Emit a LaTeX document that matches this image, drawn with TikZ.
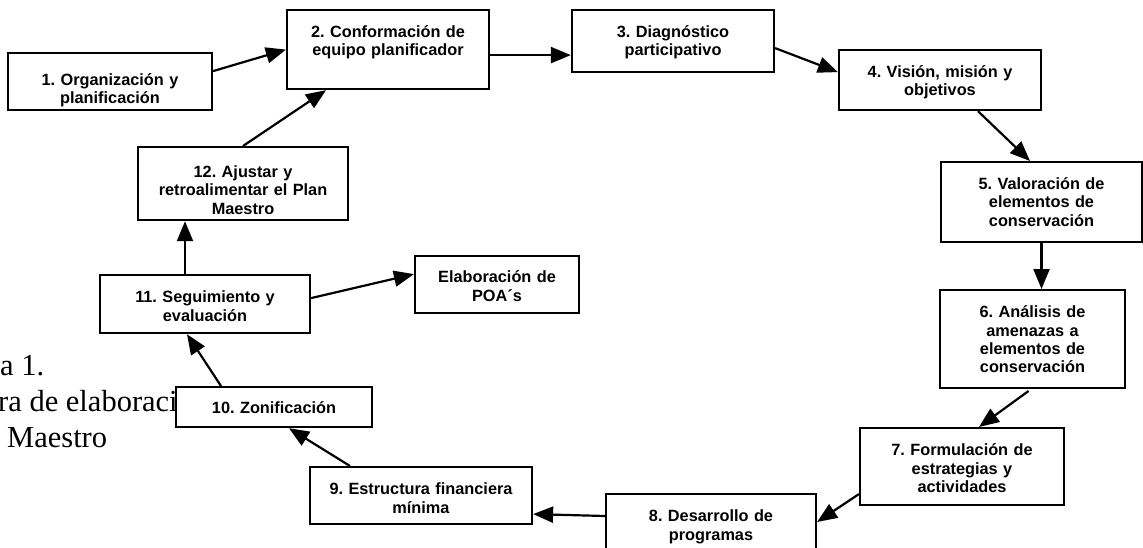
\documentclass[tikz,border=0pt]{standalone}
\usepackage{fontspec}
\setmainfont{Liberation Serif}
\newfontfamily\stagefamily{Liberation Sans}
\usetikzlibrary{arrows.meta}
\tikzstyle{stage}=[draw, line width=2.2pt, fill=white, align=center, anchor=north, inner sep=0pt, text height=27.5pt, font=\stagefamily\bfseries\fontsize{16.3}{18.4}\selectfont\frenchspacing]
\tikzstyle{flow}=[-{Triangle[length=20pt, width=16pt]}, line width=2.2pt]
\tikzstyle{caption}=[anchor=base west, inner sep=0pt, font=\fontsize{30.5}{36}\selectfont]

\begin{document}
\begin{tikzpicture}[x=1pt, y=-1pt]
  \useasboundingbox (0,0) rectangle (1143,548);
  % caption, partly hidden behind stage 10
  \node[caption] (cap1) at (0,375) {a 1.};
  \node[caption] (cap2) at (-2,411) {ra de elaboraci};
  \node[caption] (cap3) at (7,447) {Maestro};
  % stages of the plan
  \node[stage, text width=204pt, text height=32pt, text depth=25pt] (s1) at (110,52) {1. Organización y\\planificación};
  \node[stage, text width=202pt, text depth=51.5pt] (s2) at (388,9) {2. Conformación de\\equipo planificador};
  \node[stage, text width=202pt, text depth=34.5pt] (s3) at (673,9) {3. Diagnóstico\\participativo};
  \node[stage, text width=202pt, text depth=32.5pt] (s4) at (940,49) {4. Visión, misión y\\objetivos};
  \node[stage, text width=201pt, text depth=52.5pt] (s5) at (1041.5,161) {5. Valoración de\\elementos de\\conservación};
  \node[stage, text width=185pt, text depth=70.5pt] (s6) at (1032.5,289) {6. Análisis de\\amenazas a\\elementos de\\conservación};
  \node[stage, text width=204pt, text depth=49.5pt] (s7) at (962,427) {7. Formulación de\\estrategias y\\actividades};
  \node[stage, text width=210pt, text depth=42.5pt] (s8) at (711,493) {8. Desarrollo de\\programas};
  \node[stage, text width=222pt, text depth=29.5pt] (s9) at (421,466) {9. Estructura financiera\\mínima};
  \node[stage, text width=196pt, text height=26.5pt, text depth=13.5pt] (s10) at (274,386) {10. Zonificación};
  \node[stage, text width=210pt, text depth=30.5pt] (s11) at (205,274) {11. Seguimiento y\\evaluación};
  \node[stage, text width=210pt, text height=30.5pt, text depth=42.5pt] (s12) at (243,146) {12. Ajustar y\\retroalimentar el Plan\\Maestro};
  \node[stage, text width=164pt, text height=26.5pt, text depth=30.5pt] (poa) at (497,255) {Elaboración de\\POA´s};
  % arrows
  \draw[flow] ([yshift=10.5pt]s1.east) -- (s2.west);
  \draw[flow] (s12.north) -- ([xshift=-62pt]s2.south);
  \draw[flow] ([yshift=-5.5pt]s2.east) -- ([yshift=-5.5pt]s2.east -| s3.west);
  \draw[flow] ([yshift=-7pt]s3.east) -- ([yshift=8pt]s4.west);
  \draw[flow] ([xshift=38pt]s4.south) -- ([xshift=-11.5pt]s5.north);
  \draw[flow] (s5.south) -- (s5.south |- s6.north);
  \draw[flow, shorten <=3pt] ([xshift=-1.5pt]s6.south) -- ([xshift=17pt]s7.north);
  \draw[flow] ([yshift=-27.5pt]s7.west) -- ([yshift=-29pt]s8.north east);
  \draw[flow] ([yshift=-23pt]s8.north west) -- ([yshift=-18.5pt]s9.east);
  \draw[flow] ([xshift=-71pt]s9.north) -- ([xshift=15pt]s10.south);
  \draw[flow] ([xshift=-53pt]s10.north) -- ([xshift=-18pt]s11.south);
  \draw[flow] ([xshift=-20pt]s11.north) -- ([xshift=-20pt]s11.north |- s12.south);
  \draw[flow] ([yshift=6pt]s11.east) -- ([yshift=10.5pt]poa.west);
\end{tikzpicture}
\end{document}
